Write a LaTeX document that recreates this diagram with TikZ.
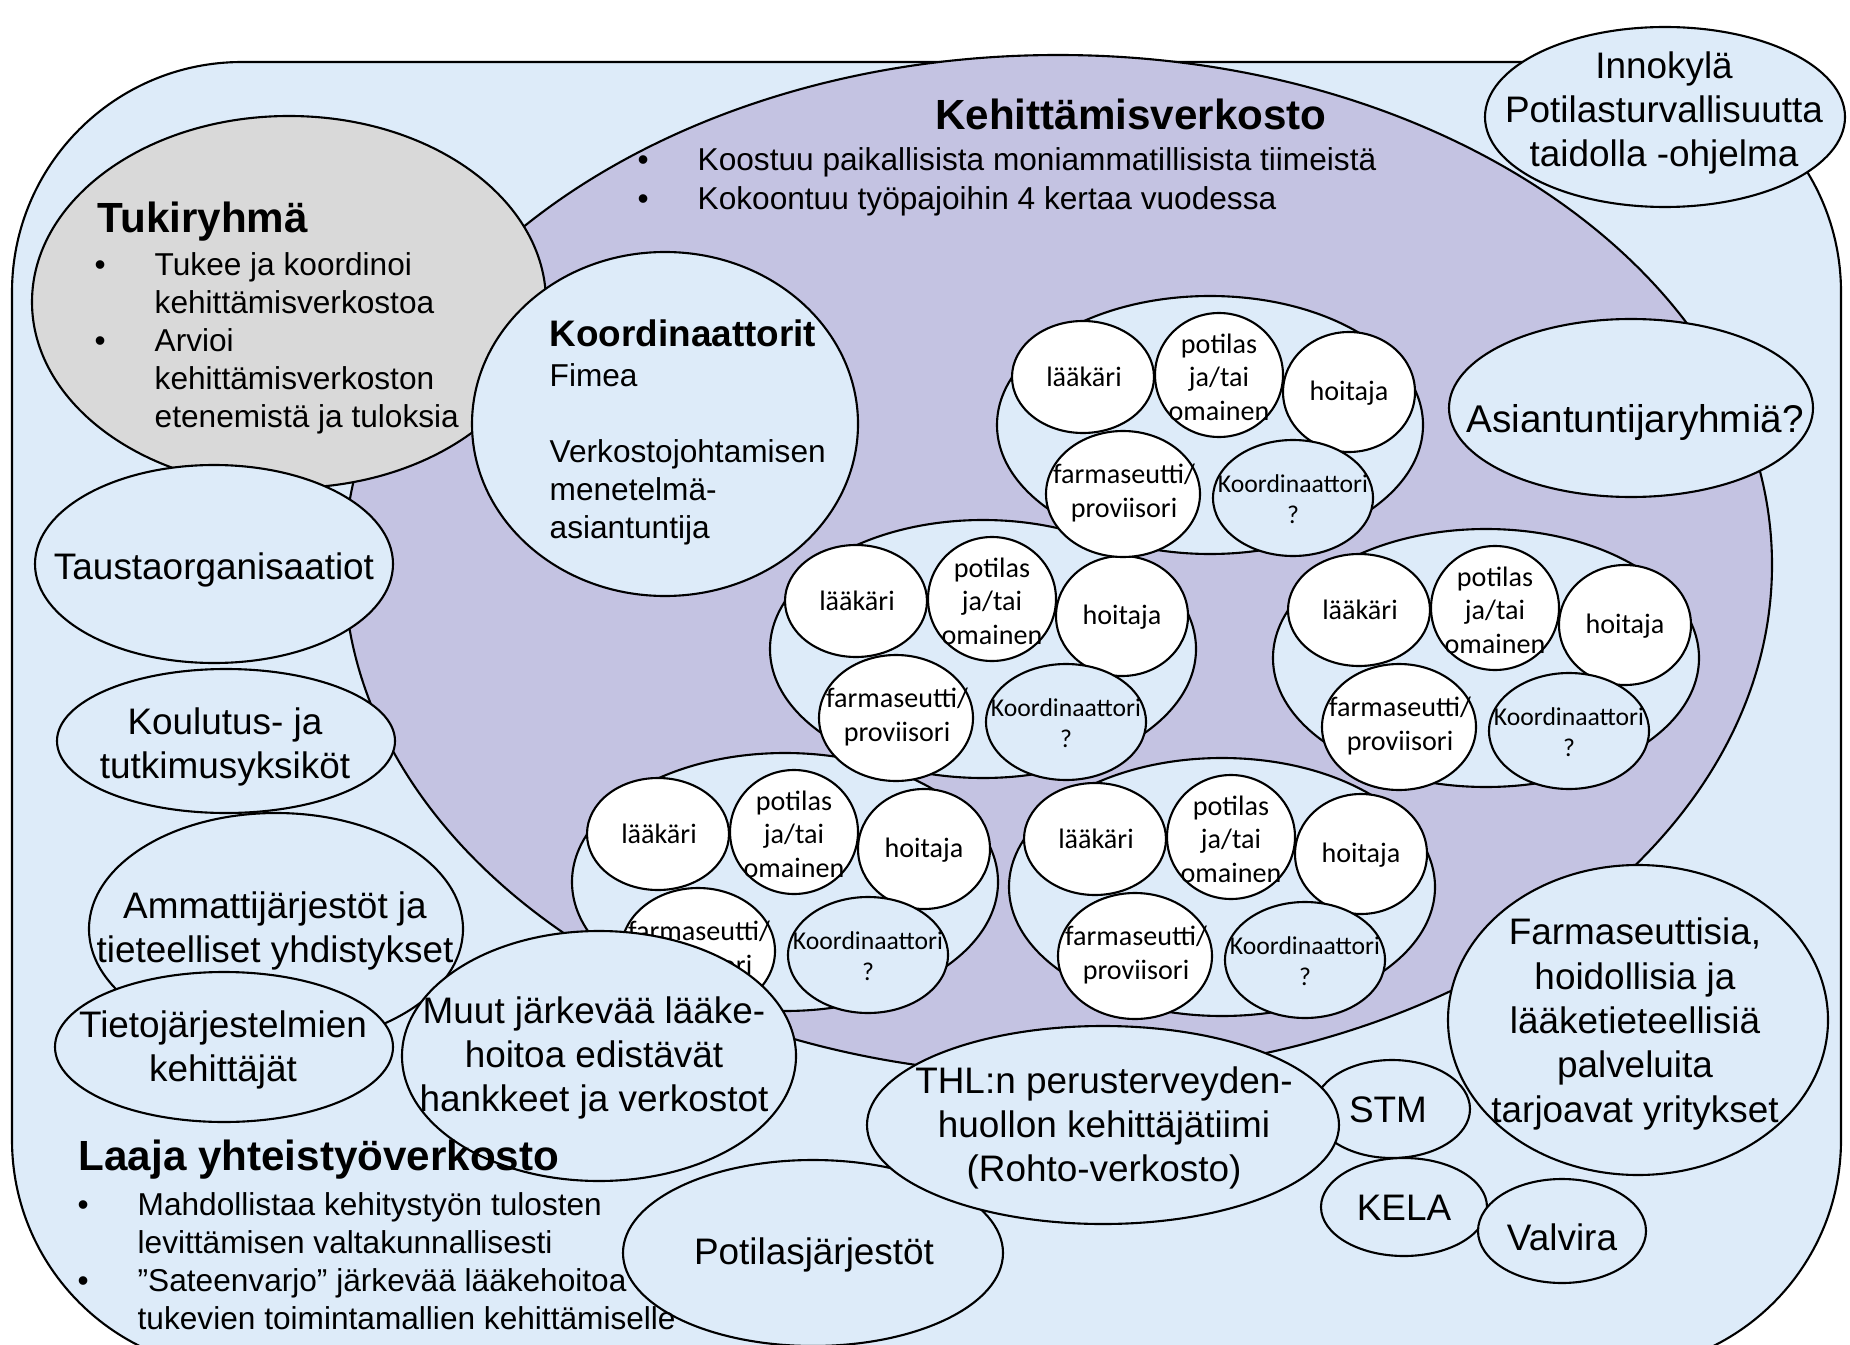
\documentclass[tikz,border=0pt]{standalone}
\usepackage{fontspec}
\setmainfont{Liberation Sans}
\newfontfamily\calibri{Carlito}
\usepackage{tikz}
\usetikzlibrary{calc}
\definecolor{vaalea}{RGB}{221,235,249}
\definecolor{violetti}{RGB}{196,195,226}
\definecolor{harmaa}{RGB}{217,217,217}
\def\pallo{\makebox[6mm][l]{\textbullet}}
\def\sisennys{\hspace*{6mm}}
\tikzset{
  reuna/.style={line width=0.6pt},
  teksti/.style={align=center, inner sep=0pt, font=\fontsize{10.5}{12.6}\selectfont},
  lista/.style={anchor=west, align=left, inner sep=0pt, font=\fontsize{9}{10.8}\selectfont},
  otsikko/.style={anchor=west, inner sep=0pt, font=\fontsize{12}{14}\selectfont\bfseries},
  pieni/.style={align=center, inner sep=0pt, font=\calibri\fontsize{8}{9.5}\selectfont}
}
\def\tiimi#1(#2,#3){%
  \begin{scope}[shift={(#2,#3)}]
    \draw[reuna, fill=vaalea] (0,0) ellipse (2.13 and 1.29);
    \draw[reuna, fill=white] (-1.27,0.48) ellipse (0.71 and 0.56);
    \draw[reuna, fill=white] (0.09,0.50) ellipse (0.64 and 0.62);
    \draw[reuna, fill=white] (1.39,0.33) ellipse (0.66 and 0.60);
    \draw[reuna, fill=white] (-0.87,-0.69) ellipse (0.77 and 0.63);
    \draw[reuna, fill=vaalea] (0.83,-0.73) ellipse (0.80 and 0.58);
    \node[pieni] (#1laakari) at (-1.26,0.48) {lääkäri};
    \node[pieni] (#1potilas) at (0.09,0.48) {potilas\\ja/tai\\omainen};
    \node[pieni] (#1hoitaja) at (1.39,0.32) {hoitaja};
    \node[pieni] (#1farma) at (-0.86,-0.68) {farmaseutti/\\proviisori};
    \node[pieni, font=\calibri\fontsize{7.3}{9}\selectfont] (#1koord) at (0.83,-0.74) {Koordinaattori\\?};
  \end{scope}}

\begin{document}
\begin{tikzpicture}
	%%%%% START %%%%%
	\useasboundingbox (0,0) rectangle (18.5,13.44);
	
	\draw[reuna, fill=vaalea, rounded corners=2.3cm] (0.12,-0.26) rectangle (18.41,12.82);
	\draw[reuna, fill=violetti] (10.58,7.79) ellipse (7.14 and 5.10);
	
	\draw[reuna, fill=harmaa] (2.89,10.42) ellipse (2.57 and 1.86);
	\draw[reuna, fill=vaalea] (2.14,7.80) ellipse (1.79 and 0.99);
	\draw[reuna, fill=vaalea] (2.26,6.03) ellipse (1.69 and 0.72);
	\draw[reuna, fill=vaalea] (2.76,4.15) ellipse (1.87 and 1.16);
	\draw[reuna, fill=vaalea] (2.24,2.97) ellipse (1.69 and 0.75);
	\draw[reuna, fill=vaalea] (6.65,9.20) ellipse (1.93 and 1.72);
	
	\tiimi t4(7.85,4.62)
	\tiimi t5(12.22,4.57)
	\tiimi t3(14.86,6.86)
	\tiimi t2(9.83,6.95)
	\tiimi t1(12.10,9.19)
	
	\draw[reuna, fill=vaalea] (5.99,2.88) ellipse (1.97 and 1.25);
	\draw[reuna, fill=vaalea] (8.13,0.91) ellipse (1.90 and 0.93);
	\draw[reuna, fill=vaalea] (13.92,2.35) ellipse (0.78 and 0.49);
	\draw[reuna, fill=vaalea] (11.03,2.19) ellipse (2.36 and 0.99);
	\draw[reuna, fill=vaalea] (14.04,1.37) ellipse (0.83 and 0.49);
	\draw[reuna, fill=vaalea] (15.62,1.13) ellipse (0.84 and 0.52);
	\draw[reuna, fill=vaalea] (16.38,3.24) ellipse (1.90 and 1.55);
	\draw[reuna, fill=vaalea] (16.31,9.36) ellipse (1.82 and 0.89);
	\draw[reuna, fill=vaalea] (16.65,12.27) ellipse (1.80 and 0.90);
	
	% tekstit
	\node[otsikko, anchor=center] (kehitys) at (11.31,12.30) {Kehittämisverkosto};
	\node[lista, font=\fontsize{9}{11}\selectfont] (kehityslista) at (6.37,11.625) {\pallo Koostuu paikallisista moniammatillisista tiimeistä\\\pallo Kokoontuu työpajoihin 4 kertaa vuodessa};
	
	\node[otsikko] (tuki) at (0.97,11.22) {Tukiryhmä};
	\node[lista] (tukilista) at (0.94,10.005) {\pallo Tukee ja koordinoi\\\sisennys kehittämisverkostoa\\\pallo Arvioi\\\sisennys kehittämisverkoston\\\sisennys etenemistä ja tuloksia};
	
	\node[otsikko, font=\fontsize{10.5}{12.6}\selectfont\bfseries] (koord) at (5.49,10.11) {Koordinaattorit};
	\node[lista] (koordlista) at (5.49,8.895) {Fimea\\ \\Verkostojohtamisen\\menetelmä-\\asiantuntija};
	
	\node[teksti] (tausta) at (2.14,7.74) {Taustaorganisaatiot};
	\node[teksti] (koulutus) at (2.25,5.97) {Koulutus- ja\\tutkimusyksiköt};
	\node[teksti] (ammatti) at (2.75,4.13) {Ammattijärjestöt ja\\tieteelliset yhdistykset};
	\node[teksti] (tieto) at (2.23,2.94) {Tietojärjestelmien\\kehittäjät};
	\node[teksti] (muut) at (5.94,2.86) {Muut järkevää lääke-\\hoitoa edistävät\\hankkeet ja verkostot};
	\node[teksti] (potilasj) at (8.14,0.89) {Potilasjärjestöt};
	\node[teksti] (thl) at (11.04,2.16) {THL:n perusterveyden-\\huollon kehittäjätiimi\\(Rohto-verkosto)};
	\node[teksti] (stm) at (13.88,2.34) {STM};
	\node[teksti] (kela) at (14.04,1.36) {KELA};
	\node[teksti] (valvira) at (15.62,1.07) {Valvira};
	\node[teksti] (yritykset) at (16.35,3.20) {Farmaseuttisia,\\hoidollisia ja\\lääketieteellisiä\\palveluita\\tarjoavat yritykset};
	\node[teksti, font=\fontsize{11}{13}\selectfont] (asiantuntija) at (16.35,9.21) {Asiantuntijaryhmiä?};
	\node[teksti] (innokyla) at (16.64,12.31) {Innokylä\\Potilasturvallisuutta\\taidolla -ohjelma};
	
	\node[otsikko] (laaja) at (0.78,1.84) {Laaja yhteistyöverkosto};
	\node[lista, font=\fontsize{9}{10.8}\selectfont] (laajalista) at (0.77,0.83) {\pallo Mahdollistaa kehitystyön tulosten\\\sisennys levittämisen valtakunnallisesti\\\pallo ”Sateenvarjo” järkevää lääkehoitoa\\\sisennys tukevien toimintamallien kehittämiselle};
	
	%%%%% END %%%%%
\end{tikzpicture}
\end{document}
